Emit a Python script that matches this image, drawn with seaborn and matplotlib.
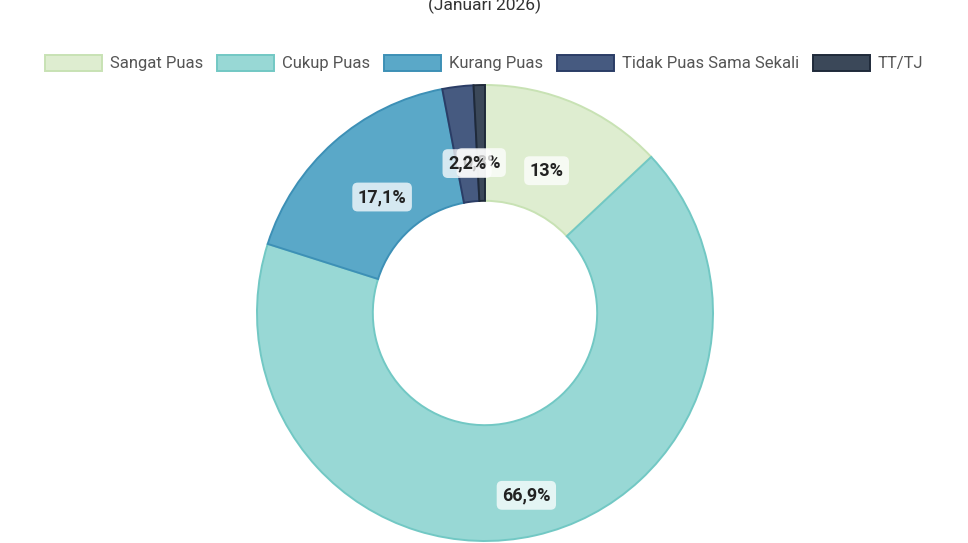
import numpy as np
import seaborn as sns
import matplotlib.pyplot as plt
from matplotlib.patches import Patch

# Data
categories = ["Sangat Puas", "Cukup Puas", "Kurang Puas", "Tidak Puas Sama Sekali", "TT/TJ"]
values = [13.0, 66.9, 17.1, 2.2, 0.8]
labels = ["13%", "66,9%", "17,1%", "2,2%", "0,8%"]

fills = ["#deedd0", "#98d8d5", "#5aa8c8", "#465a80", "#3b4859"]
edges = ["#c8e2b4", "#72c8c4", "#3d90b6", "#2b3d66", "#1f2a3a"]
label_r = [0.68, 0.82, 0.68, 0.66, 0.66]

sns.set_theme(style="white")
plt.rcParams["font.family"] = ["Roboto", "DejaVu Sans"]

fig = plt.figure(figsize=(9.68, 5.43), dpi=100)
R = 228 * 1.02
ax = fig.add_axes([(485 - R) / 968, (543 - 313 - R) / 543, 2 * R / 968, 2 * R / 543])

wedges, _ = ax.pie(values, startangle=90, counterclock=False, colors=fills,
                   wedgeprops=dict(width=0.508, linewidth=1.4), radius=1.0)
for w, ec in zip(wedges, edges):
    w.set_edgecolor(ec)
ax.set_xlim(-1.02, 1.02)
ax.set_ylim(-1.02, 1.02)
ax.set_aspect("equal")
ax.axis("off")

# Value labels
cum = np.cumsum([0] + values[:-1])
for i, (v, lab) in enumerate(zip(values, labels)):
    mid = (cum[i] + v / 2) / 100 * 2 * np.pi
    x = label_r[i] * np.sin(mid)
    y = label_r[i] * np.cos(mid)
    ax.text(x, y, lab, ha="center", va="center", fontsize=13, fontweight="bold",
            color="#222222", zorder=10 - i,
            bbox=dict(boxstyle="round,pad=0.3,rounding_size=0.3",
                      fc="white", ec="none", alpha=0.75))

# Legend
handles = [Patch(facecolor=f, edgecolor=e, linewidth=1.4) for f, e in zip(fills, edges)]
fig.legend(handles, categories, loc="center", bbox_to_anchor=(0.5, 1 - 63 / 543),
           ncol=5, frameon=False, fontsize=12, handlelength=3.4, handleheight=1.1,
           columnspacing=0.85, handletextpad=0.48, labelcolor="#555555")

# Title (partly cut at the top)
fig.text(0.5, 1 - 5 / 543, "(Januari 2026)", ha="center", va="center",
         fontsize=12.5, color="#333333")

fig.savefig("out.png", dpi=100)
